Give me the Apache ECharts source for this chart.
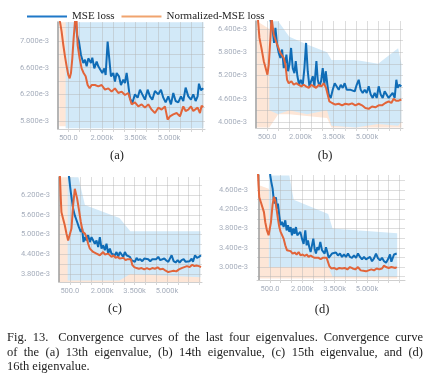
<!DOCTYPE html>
<html><head><meta charset="utf-8">
<script src="https://cdn.jsdelivr.net/npm/echarts@6/dist/echarts.min.js"></script>
<style>html,body{margin:0;padding:0;background:#fff}#c{width:430px;height:378px}</style>
</head><body><div id="c"></div>
<script>
// ---------- tick values (values in units of 1e-3) ----------
const xGridTicks = [500,1000,1500,2000,2500,3000,3500,4000,4500,5000,5500,6000,6500];
const xLabelTicks = [500,2000,3500,5000];
const yGridA = [5.8,6.0,6.2,6.4,6.6,6.8,7.0,7.2];
const yLabelA = [5.8,6.2,6.6,7.0];
const yGridB = [4.0,4.3,4.6,4.9,5.2,5.5,5.8,6.1,6.4];
const yLabelB = [4.0,4.6,5.2,5.8,6.4];
const yGridC = [3.8,4.1,4.4,4.7,5.0,5.3,5.6,5.9,6.2,6.5];
const yLabelC = [3.8,4.4,5.0,5.6,6.2];
const yGridD = [2.8,3.0,3.2,3.4,3.6,3.8,4.0,4.2,4.4,4.6,4.8];
const yLabelD = [3.0,3.4,3.8,4.2,4.6];
const legendNames = ['MSE loss','Normalized-MSE loss'];
const panelLabels = ['(a)','(b)','(c)','(d)'];
const captionLines = [
 'Fig. 13.  Convergence curves of the last four eigenvalues. Convergence curve',
 'of the (a) 13th eigenvalue, (b) 14th eigenvalue, (c) 15th eigenvalue, and (d)',
 '16th eigenvalue.'
];

// ---------- smoothed curves [step, value e-3] ----------
const mseA = [[760,7.6],[827,7.27],[900,7.07],[976,6.99],[1065,6.79],[1170,6.67],[1244,6.72],[1318,6.62],[1393,6.74],[1512,6.67],[1571,6.75],[1661,6.59],[1765,6.69],[1839,6.62],[1914,6.64],[2018,6.52],[2107,6.59],[2167,6.49],[2256,6.99],[2405,6.47],[2509,6.52],[2583,6.39],[2658,6.52],[2762,6.47],[2851,6.34],[2955,6.42],[3030,6.37],[3104,6.52],[3178,6.34],[3253,6.14],[3357,6.07],[3476,6.2],[3595,6.15],[3699,6.27],[3803,6.2],[3922,6.12],[4041,6.27],[4146,6.17],[4250,6.12],[4369,6.25],[4518,6.2],[4637,6.27],[4741,6.15],[4845,6.08],[4964,6.17],[5083,6.05],[5187,6.22],[5291,6.1],[5410,6.08],[5529,6.17],[5634,6.1],[5738,6.3],[5857,6.17],[5976,6.12],[6080,6.2],[6184,6.1],[6273,6.17],[6333,6.36],[6422,6.26],[6526,6.29]];
const normA = [[100,7.5],[128,7.29],[202,7.14],[277,6.94],[351,6.77],[426,6.62],[500,6.49],[560,6.44],[619,6.52],[679,6.74],[738,7.04],[798,7.29],[850,7.45],[917,6.94],[1006,6.74],[1095,6.59],[1184,6.52],[1274,6.47],[1363,6.34],[1452,6.29],[1542,6.34],[1690,6.34],[1839,6.32],[1988,6.34],[2137,6.27],[2286,6.29],[2434,6.24],[2583,6.29],[2732,6.22],[2881,6.24],[3030,6.19],[3178,6.22],[3327,6.05],[3476,6.08],[3625,6.02],[3774,6.05],[3922,6.0],[4071,6.05],[4220,5.97],[4369,5.92],[4518,6.0],[4666,5.97],[4815,6.02],[4934,5.82],[5038,5.87],[5187,5.9],[5336,5.92],[5485,5.87],[5634,6.02],[5738,5.95],[5857,5.97],[5976,6.02],[6080,5.95],[6154,5.92],[6273,6.0],[6378,5.92],[6452,6.03],[6526,6.01]];
const mseB = [[600,6.9],[650,6.64],[755,6.34],[815,6.04],[875,6.43],[950,6.0],[1025,5.78],[1100,5.65],[1175,5.87],[1250,5.39],[1325,5.57],[1370,5.74],[1445,5.31],[1505,5.48],[1580,5.91],[1655,5.39],[1730,5.26],[1790,5.57],[1865,5.18],[1940,4.96],[2015,5.09],[2105,4.96],[2180,5.39],[2255,6.04],[2330,5.31],[2405,4.92],[2480,4.96],[2555,5.18],[2630,4.92],[2720,5.57],[2780,5.09],[2855,4.92],[2930,5.05],[3005,5.39],[3080,4.96],[3140,5.31],[3215,4.96],[3275,4.71],[3365,4.62],[3455,4.83],[3545,5.0],[3635,4.96],[3725,4.83],[3815,4.96],[3905,4.88],[3995,5.0],[4085,4.83],[4175,4.88],[4265,4.83],[4355,4.88],[4445,4.79],[4535,4.96],[4625,5.09],[4715,4.83],[4805,4.75],[4895,4.83],[4985,4.75],[5075,4.92],[5165,4.71],[5255,4.62],[5345,4.75],[5435,4.62],[5525,4.92],[5615,4.71],[5705,4.62],[5795,4.79],[5885,4.83],[5975,4.62],[6065,4.58],[6155,4.75],[6245,4.62],[6320,5.09],[6380,4.88],[6455,4.96],[6545,4.92]];
const normB = [[60,6.9],[95,6.6],[155,6.17],[245,5.91],[350,5.57],[455,5.35],[515,5.22],[575,5.48],[650,6.17],[700,6.7],[760,6.7],[800,6.25],[950,6.0],[1100,5.78],[1250,5.65],[1325,5.48],[1400,5.09],[1475,5.0],[1595,5.05],[1700,4.96],[1805,5.0],[1925,4.96],[2045,4.92],[2150,4.96],[2255,4.92],[2375,4.88],[2495,4.96],[2600,4.92],[2705,4.88],[2825,4.96],[2945,4.92],[3050,5.0],[3155,4.88],[3245,4.92],[3305,4.53],[3425,4.49],[3575,4.45],[3725,4.47],[3875,4.43],[4025,4.47],[4175,4.45],[4325,4.48],[4475,4.43],[4625,4.47],[4775,4.43],[4925,4.36],[5075,4.34],[5225,4.4],[5375,4.38],[5525,4.43],[5675,4.43],[5825,4.49],[5975,4.53],[6095,4.49],[6200,4.6],[6305,4.55],[6425,4.55],[6545,4.58]];
const mseC = [[400,7.0],[454,6.8],[546,6.29],[655,5.78],[732,5.58],[778,5.63],[840,5.38],[917,5.23],[1010,5.08],[1072,5.18],[1134,4.77],[1196,4.92],[1273,4.82],[1350,4.98],[1428,4.77],[1505,4.92],[1582,4.98],[1660,4.72],[1737,4.82],[1814,4.62],[1891,4.92],[1969,4.57],[2046,4.67],[2123,4.52],[2200,4.72],[2278,4.42],[2355,4.57],[2432,4.42],[2510,4.47],[2587,4.37],[2664,4.47],[2742,4.32],[2819,4.47],[2896,4.42],[2973,4.32],[3051,4.47],[3128,4.37],[3205,4.42],[3282,4.32],[3360,4.22],[3437,4.27],[3515,4.17],[3592,4.29],[3669,4.22],[3762,4.25],[3855,4.19],[3948,4.27],[4040,4.22],[4133,4.25],[4226,4.19],[4319,4.25],[4411,4.19],[4504,4.25],[4597,4.32],[4690,4.22],[4782,4.17],[4875,4.27],[4968,4.21],[5061,4.17],[5153,4.29],[5215,4.37],[5308,4.19],[5401,4.15],[5494,4.22],[5586,4.15],[5679,4.22],[5772,4.25],[5865,4.17],[5957,4.15],[6050,4.19],[6143,4.27],[6205,4.17],[6298,4.37],[6390,4.29],[6483,4.32],[6575,4.37]];
const normC = [[20,7.0],[36,6.9],[83,6.09],[113,5.68],[190,5.48],[268,5.28],[345,5.03],[423,4.82],[500,4.77],[577,5.18],[655,5.89],[732,6.39],[778,6.44],[840,6.09],[917,5.78],[1010,5.38],[1103,5.08],[1196,5.03],[1273,4.92],[1350,4.72],[1428,4.57],[1505,4.52],[1582,4.47],[1660,4.49],[1737,4.42],[1814,4.47],[1891,4.37],[1969,4.42],[2046,4.47],[2123,4.39],[2200,4.35],[2278,4.42],[2355,4.37],[2432,4.32],[2525,4.37],[2618,4.29],[2711,4.32],[2804,4.27],[2896,4.25],[2989,4.29],[3082,4.22],[3175,4.25],[3267,4.19],[3329,4.25],[3391,4.08],[3484,4.01],[3592,3.98],[3700,3.96],[3824,3.98],[3948,3.94],[4071,3.98],[4195,3.94],[4319,3.98],[4442,3.96],[4566,4.0],[4690,3.94],[4813,3.96],[4937,3.9],[5061,3.86],[5184,3.88],[5308,3.9],[5432,3.88],[5555,3.94],[5679,3.98],[5803,4.01],[5926,4.04],[6050,4.01],[6174,4.08],[6267,4.04],[6360,4.06],[6483,4.04],[6575,4.01]];
const mseD = [[480,5.1],[515,4.9],[562,4.77],[624,4.63],[670,4.42],[716,4.32],[778,4.45],[825,4.21],[871,4.32],[933,4.07],[995,3.87],[1057,3.94],[1134,3.83],[1211,3.97],[1273,3.76],[1335,3.87],[1397,3.73],[1459,3.83],[1520,3.66],[1582,3.8],[1644,3.69],[1706,3.83],[1768,3.66],[1830,3.62],[1907,3.73],[1984,3.59],[2061,3.48],[2139,3.76],[2201,3.45],[2262,3.55],[2324,3.41],[2386,3.31],[2448,3.45],[2510,3.59],[2572,3.38],[2633,3.28],[2695,3.41],[2757,3.35],[2834,3.52],[2912,3.35],[2974,3.38],[3035,3.28],[3097,3.41],[3159,3.31],[3221,3.19],[3298,3.16],[3376,3.28],[3468,3.24],[3561,3.3],[3654,3.24],[3747,3.28],[3839,3.21],[3932,3.26],[4025,3.21],[4118,3.28],[4210,3.21],[4303,3.19],[4396,3.24],[4489,3.19],[4581,3.28],[4674,3.21],[4767,3.16],[4860,3.21],[4953,3.16],[5045,3.14],[5138,3.21],[5231,3.12],[5324,3.18],[5416,3.28],[5509,3.18],[5602,3.14],[5695,3.19],[5787,3.12],[5880,3.09],[5973,3.16],[6066,3.26],[6128,3.11],[6190,3.14],[6251,3.26],[6313,3.23],[6375,3.28]];
const normD = [[-60,5.0],[-30,4.7],[5,4.45],[98,4.32],[160,4.28],[222,4.14],[284,3.93],[361,3.76],[438,3.66],[485,3.69],[546,3.93],[624,4.3],[686,4.46],[747,4.38],[809,4.2],[871,4.0],[933,3.83],[995,3.73],[1057,3.69],[1134,3.59],[1211,3.45],[1288,3.35],[1366,3.31],[1459,3.33],[1551,3.28],[1644,3.3],[1737,3.26],[1830,3.31],[1922,3.24],[2015,3.26],[2108,3.23],[2201,3.26],[2293,3.21],[2386,3.24],[2479,3.21],[2572,3.19],[2664,3.21],[2757,3.19],[2850,3.16],[2943,3.19],[3035,3.16],[3128,3.19],[3190,3.16],[3252,3.02],[3345,2.97],[3468,2.98],[3592,2.95],[3716,2.98],[3839,2.97],[3963,2.98],[4087,2.95],[4210,3.0],[4334,2.97],[4458,2.95],[4581,3.0],[4705,2.93],[4829,2.92],[4953,2.91],[5076,2.93],[5200,2.95],[5323,2.93],[5447,2.97],[5571,2.95],[5695,2.97],[5787,3.03],[5880,3.0],[6004,2.98],[6128,3.0],[6220,3.03],[6313,2.98],[6375,3.0]];

// ---------- raw (unsmoothed) spread envelopes [step, low, high] ----------
const rawMseA = [[380,5.69,7.28],[6540,5.69,7.28]];
const rawNormA = [[100,5.72,7.28],[800,5.72,7.28],[1000,5.85,6.8],[3300,5.8,6.6],[6540,5.72,6.4]];
const rawMseB = [[600,4.3,6.6],[1000,4.2,6.6],[1500,4.3,6.2],[2300,4.2,6.0],[3200,4.3,5.8],[3400,3.9,5.6],[4500,3.86,5.6],[5500,3.95,5.5],[6400,3.9,5.9],[6550,4.0,5.5]];
const rawNormB = [[50,3.86,6.6],[600,3.86,6.4],[1000,4.2,5.8],[1500,4.2,5.2],[3200,4.1,5.1],[3400,3.86,4.6],[6550,3.86,4.8]];
const rawMseC = [[400,3.6,6.74],[900,3.6,6.74],[1200,3.6,5.9],[2800,3.6,5.5],[3300,3.8,5.1],[6550,3.7,5.1]];
const rawNormC = [[0,3.56,6.74],[700,3.56,6.74],[1000,3.56,5.2],[3300,3.56,4.9],[3500,3.56,4.3],[6550,3.56,4.3]];
const rawMseD = [[450,3.0,4.9],[1400,3.0,4.9],[1600,3.0,4.4],[3200,3.0,4.1],[3400,2.8,3.8],[6400,2.8,3.7]];
const rawNormD = [[0,2.76,4.7],[600,2.76,4.6],[1000,2.76,3.9],[3200,2.76,3.7],[3400,2.76,3.15],[6400,2.76,3.1]];

// ---------- chart ----------
const BLUE = '#0f6cb6', ORANGE = '#e2653a';
const LEG_BLUE = '#1f78c8', LEG_ORANGE = '#f0a36e';
const RAW_BLUE = '#d2e9f8', RAW_ORANGE = '#fde6d7';
const chart = echarts.init(document.getElementById('c'), null, {renderer:'canvas'});

const panels = [
  {grid:{left:58,top:22,width:147,height:107}, xr:[40,6603], yr:[5.68,7.285], yg:yGridA, yl:yLabelA, mse:mseA, norm:normA, rm:rawMseA, rn:rawNormA},
  {grid:{left:256,top:21,width:147,height:107}, xr:[0,6620], yr:[3.845,6.606], yg:yGridB, yl:yLabelB, mse:mseB, norm:normB, rm:rawMseB, rn:rawNormB},
  {grid:{left:59,top:177,width:143,height:105}, xr:[0,6622], yr:[3.557,6.747], yg:yGridC, yl:yLabelC, mse:mseC, norm:normC, rm:rawMseC, rn:rawNormC},
  {grid:{left:257,top:175,width:148,height:105}, xr:[-100,6760], yr:[2.73,4.912], yg:yGridD, yl:yLabelD, mse:mseD, norm:normD, rm:rawMseD, rn:rawNormD}
];
const tickFont = {color:'#a6aebc', fontSize:7.5, fontFamily:'Roboto'};
const grids=[], xAxes=[], yAxes=[], series=[];
function band(arr, fill, i, z){
  return {type:'custom', xAxisIndex:i, yAxisIndex:i, silent:true, z:z,
    data: arr, encode:{x:0, y:[1,2]},
    renderItem:(params, api)=>{
      if (params.dataIndex !== 0) return null;
      const pts=[];
      for (let k=0;k<arr.length;k++) pts.push(api.coord([arr[k][0],arr[k][2]]));
      for (let k=arr.length-1;k>=0;k--) pts.push(api.coord([arr[k][0],arr[k][1]]));
      return {type:'polygon', shape:{points:pts}, style:{fill:fill}};
    }};
}
panels.forEach((p,i)=>{
  grids.push(p.grid);
  xAxes.push({type:'value', gridIndex:i, min:p.xr[0], max:p.xr[1], z:1,
    axisLine:{show:true, onZero:false, lineStyle:{color:'#cfcfcf', width:1}},
    axisTick:{show:true, length:3, customValues:xGridTicks, lineStyle:{color:'#d5d5d5'}},
    splitLine:{show:true, lineStyle:{color:'rgba(180,180,180,0.45)', width:1}},
    axisLabel:Object.assign({customValues:xLabelTicks, margin:5,
      formatter:v=> v<1000 ? v.toFixed(1) : (v/1000).toFixed(3)+'k'}, tickFont)});
  yAxes.push({type:'value', gridIndex:i, min:p.yr[0], max:p.yr[1], z:1,
    axisLine:{show:true, lineStyle:{color:'#9c9c9c', width:1.5}},
    axisTick:{show:false, customValues:p.yg},
    splitLine:{show:true, lineStyle:{color:'rgba(180,180,180,0.45)', width:1}},
    axisLabel:Object.assign({customValues:p.yl, margin:9,
      formatter:v=> v.toFixed(3)+'e-3'}, tickFont)});
  series.push(band(p.rn, RAW_ORANGE, i, -2));
  series.push(band(p.rm, RAW_BLUE, i, -1));
  series.push({type:'line', name:legendNames[0], xAxisIndex:i, yAxisIndex:i, data:p.mse,
    showSymbol:false, symbol:'none', clip:true, z:3, lineStyle:{color:BLUE, width:2}, itemStyle:{color:LEG_BLUE}});
  series.push({type:'line', name:legendNames[1], xAxisIndex:i, yAxisIndex:i, data:p.norm,
    showSymbol:false, symbol:'none', clip:true, z:4, lineStyle:{color:ORANGE, width:2}, itemStyle:{color:LEG_ORANGE}});
});

// panel labels and justified caption
const graphics=[];
const labelPos=[[117,156],[325,156],[115,309],[322,310]];
panelLabels.forEach((t,i)=>graphics.push({type:'text', x:labelPos[i][0], y:labelPos[i][1],
  style:{text:t, font:'12.5px "Liberation Serif"', fill:'#222', textAlign:'center', textVerticalAlign:'middle'}}));
const capFont='12.5px "Liberation Serif"';
const ctx=document.createElement('canvas').getContext('2d'); ctx.font=capFont;
const capLeft=7, capRight=423, capY=[338,352.5,367];
captionLines.forEach((line,li)=>{
  if (li===captionLines.length-1){
    graphics.push({type:'text', x:capLeft, y:capY[li], style:{text:line, font:capFont, fill:'#222', textAlign:'left', textVerticalAlign:'middle'}});
    return;
  }
  const words=line.split(/ +/);
  const extra = li===0 ? 4 : 0;
  const tw=words.reduce((s,w)=>s+ctx.measureText(w).width,0);
  const gap=(capRight-capLeft-tw-extra)/(words.length-1);
  let x=capLeft;
  words.forEach((w,k)=>{
    graphics.push({type:'text', x:x, y:capY[li], style:{text:w, font:capFont, fill:'#222', textAlign:'left', textVerticalAlign:'middle'}});
    x+=ctx.measureText(w).width+gap+(li===0&&k===1?extra:0);
  });
});

chart.setOption({
  animation:false,
  backgroundColor:'#fff',
  legend:{data:[{name:legendNames[0], itemStyle:{color:LEG_BLUE}},{name:legendNames[1], itemStyle:{color:LEG_ORANGE}}],
    left:22, top:6, icon:'rect', itemWidth:40, itemHeight:2, itemGap:7,
    textStyle:{fontFamily:'Liberation Serif', fontSize:11, color:'#222'}},
  grid:grids, xAxis:xAxes, yAxis:yAxes, series:series, graphic:graphics
});
</script></body></html>
